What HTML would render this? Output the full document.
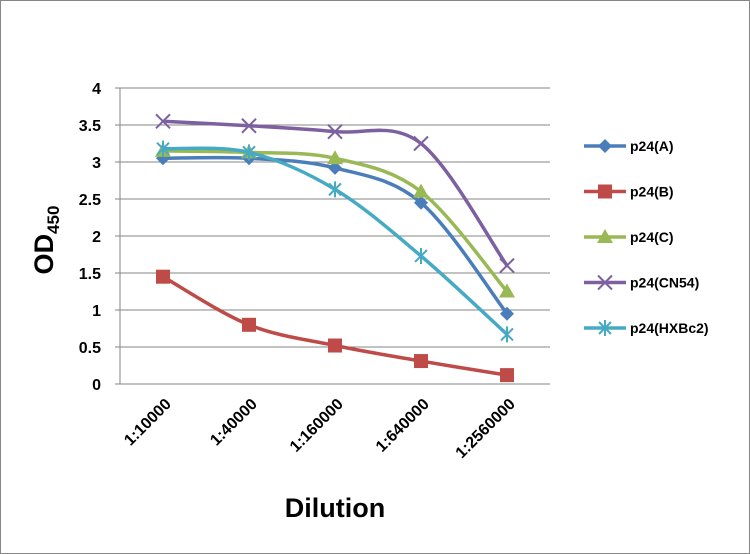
<!DOCTYPE html>
<html><head><meta charset="utf-8"><style>
html,body{margin:0;padding:0;background:#fff}
svg{display:block;font-family:"Liberation Sans",sans-serif;font-weight:bold}
</style></head><body>
<svg width="750" height="554" viewBox="0 0 750 554">
<rect x="0.5" y="0.5" width="749" height="553" fill="#fff" stroke="#868686"/>
<g id="grid"></g><g id="series"></g><g id="legend"></g>
<text x="0" y="0" transform="translate(53,240) rotate(-90)" text-anchor="middle" font-size="27" fill="#000">OD<tspan font-size="17" dy="6">450</tspan></text>
<text x="335" y="517" text-anchor="middle" font-size="27" fill="#000">Dilution</text>
</svg>
<script>
const categories=["1:10000","1:40000","1:160000","1:640000","1:2560000"];
const yTicks=[0,0.5,1,1.5,2,2.5,3,3.5,4];
const seriesNames=["p24(A)","p24(B)","p24(C)","p24(CN54)","p24(HXBc2)"];
const valsA=[3.05,3.05,2.92,2.45,0.95];
const valsB=[1.45,0.8,0.52,0.31,0.12];
const valsC=[3.15,3.13,3.05,2.6,1.25];
const valsCN54=[3.55,3.49,3.41,3.25,1.6];
const valsHXBc2=[3.18,3.13,2.63,1.73,0.67];
const colors=["#4a7ebb","#be4b48","#98b954","#7d60a0","#46aac5"];
const markers=["diamond","square","triangle","x","star"];
const NS="http://www.w3.org/2000/svg";
const L=120,R=550,T=88,B=384,yMax=4;
const band=(R-L)/categories.length;
const xs=i=>L+band*(i+0.5);
const ys=v=>B-(v/yMax)*(B-T);
function mk(tag,attrs,parent){const e=document.createElementNS(NS,tag);for(const k in attrs)e.setAttribute(k,attrs[k]);parent.appendChild(e);return e;}
const grid=document.getElementById('grid');
yTicks.forEach(t=>{
 const l=mk('line',{x1:L-5,x2:R,y1:ys(t),y2:ys(t),stroke:'#868686','stroke-width':1},grid);
 
 
 const tx=mk('text',{x:101,y:ys(t)+6,'text-anchor':'end','font-size':16,fill:'#000'},grid);tx.textContent=String(t);
 
 
});
const ax=mk('line',{x1:L,x2:L,y1:T,y2:B,stroke:'#868686'},grid);


categories.forEach((c,i)=>{
 const tx=mk('text',{x:0,y:0,transform:`translate(${xs(i)+9},${B+21}) rotate(-45)`,'text-anchor':'end','font-size':16,fill:'#000'},grid);tx.textContent=c;
 
 
});
function path(pts){let d=`M${pts[0][0]},${pts[0][1]}`;for(let i=0;i<pts.length-1;i++){const p0=pts[Math.max(i-1,0)],p1=pts[i],p2=pts[i+1],p3=pts[Math.min(i+2,pts.length-1)];const t=6;d+=` C${p1[0]+(p2[0]-p0[0])/t},${p1[1]+(p2[1]-p0[1])/t} ${p2[0]-(p3[0]-p1[0])/t},${p2[1]-(p3[1]-p1[1])/t} ${p2[0]},${p2[1]}`;}return d;}
function marker(g,type,x,y,col){
 let e;
 if(type==='diamond')e=mk('polygon',{points:`${x},${y-7} ${x+7},${y} ${x},${y+7} ${x-7},${y}`,fill:col},g);
 else if(type==='square')e=mk('rect',{x:x-7,y:y-7,width:14,height:14,fill:col},g);
 else if(type==='triangle')e=mk('polygon',{points:`${x},${y-8} ${x+8},${y+6} ${x-8},${y+6}`,fill:col},g);
 else if(type==='x')e=mk('path',{d:`M${x-7},${y-7}L${x+7},${y+7}M${x-7},${y+7}L${x+7},${y-7}`,stroke:col,'stroke-width':2,fill:'none'},g);
 else e=mk('path',{d:`M${x-6},${y-6}L${x+6},${y+6}M${x-6},${y+6}L${x+6},${y-6}M${x},${y-8}L${x},${y+8}`,stroke:col,'stroke-width':2,fill:'none'},g);
 
 
}
const allVals=[valsA,valsB,valsC,valsCN54,valsHXBc2];
const sg=document.getElementById('series'),lg=document.getElementById('legend');
allVals.forEach((vals,s)=>{
 const g=mk('g',{},sg);
 
 
 const pts=vals.map((v,i)=>[xs(i),ys(v)]);
 const p=mk('path',{d:path(pts),fill:'none',stroke:colors[s],'stroke-width':3.5},g);
 
 
 pts.forEach(q=>marker(g,markers[s],q[0],q[1],colors[s]));
 const ly=146+s*45.5;
 const le=mk('g',{},lg);
 
 
 mk('line',{x1:584,x2:626,y1:ly,y2:ly,stroke:colors[s],'stroke-width':3.5},le);
 marker(le,markers[s],605,ly,colors[s]);
 const t=mk('text',{x:630,y:ly+5,'font-size':14,fill:'#000'},le);t.textContent=seriesNames[s];
});
</script>
</body></html>
